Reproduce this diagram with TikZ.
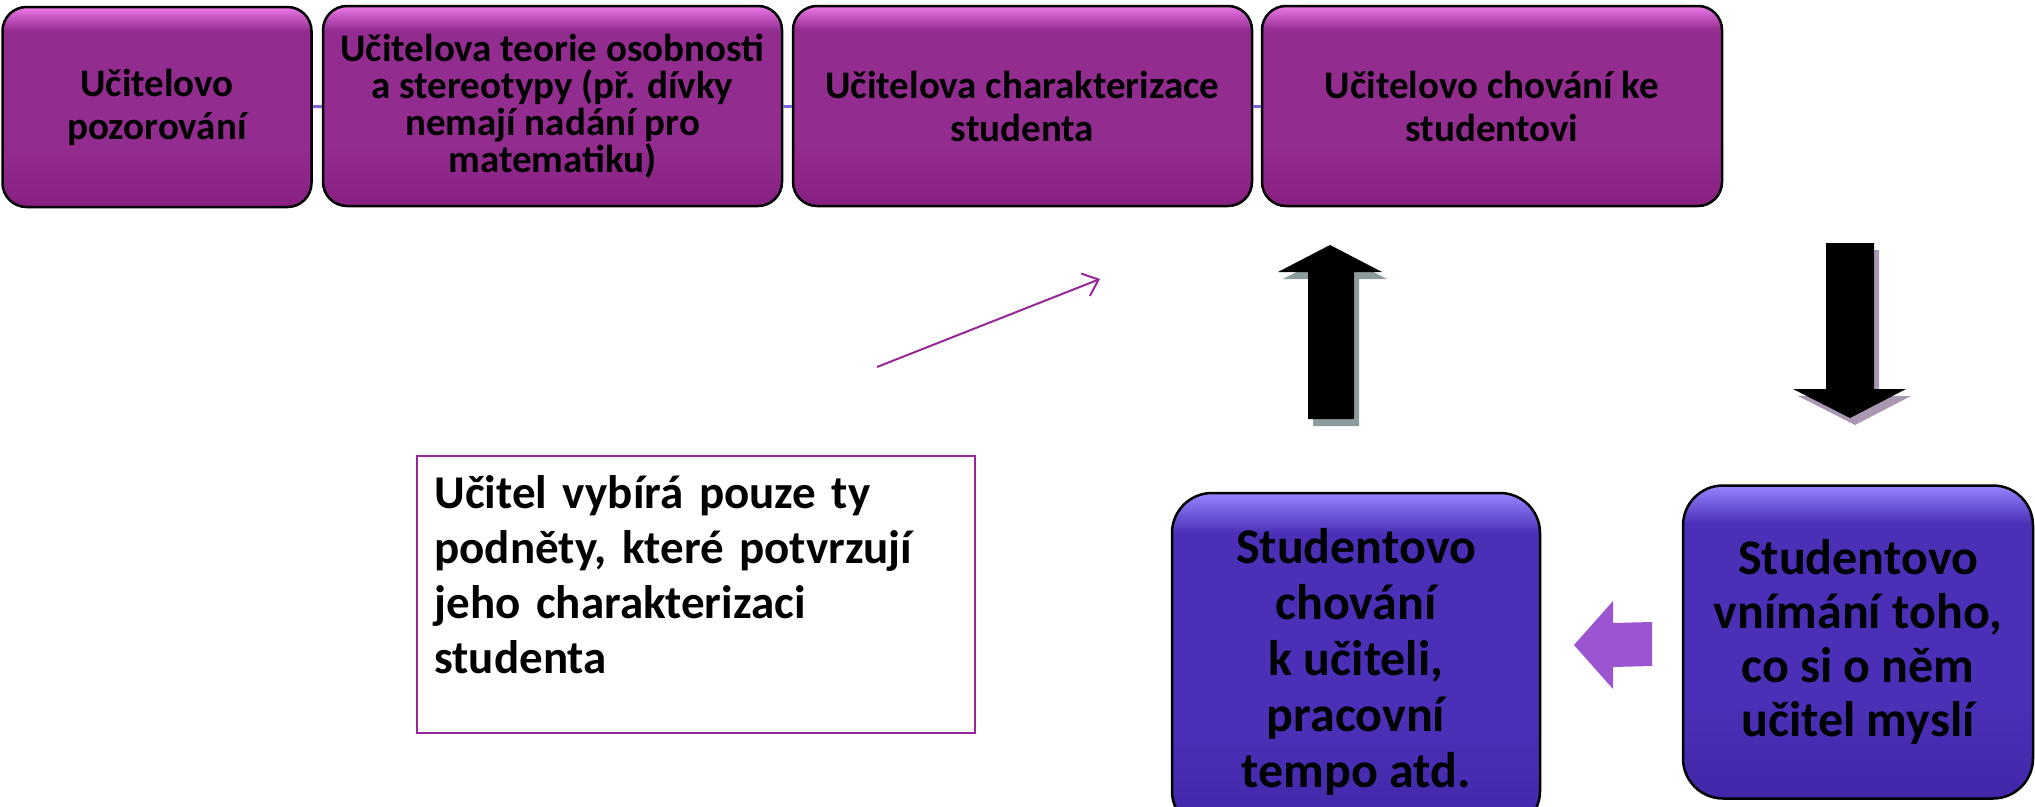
\documentclass[tikz,border=0pt]{standalone}
\usepackage{fontspec}
\setmainfont{Carlito}
\usetikzlibrary{arrows.meta}
\usetikzlibrary{positioning}

\definecolor{tbmain}{RGB}{147,44,143}
\definecolor{tbdark}{RGB}{136,32,130}
\definecolor{tblight}{RGB}{236,120,232}
\definecolor{sbmain}{RGB}{75,48,183}
\definecolor{sbdark}{RGB}{66,38,168}
\definecolor{sblight}{RGB}{152,132,255}
\definecolor{linkcol}{RGB}{125,100,220}
\definecolor{notecol}{RGB}{150,40,150}
\definecolor{backcol}{RGB}{155,85,208}
\definecolor{upshadow}{RGB}{140,155,156}
\definecolor{downshadow}{RGB}{170,152,178}

\pgfdeclareverticalshading{topshade}{100bp}{color(0bp)=(tbdark); color(25bp)=(tbdark); color(40bp)=(tbmain); color(69bp)=(tbmain); color(75bp)=(tblight); color(100bp)=(tblight)}
\pgfdeclareverticalshading{studshade}{100bp}{color(0bp)=(sbdark); color(25bp)=(sbdark); color(40bp)=(sbmain); color(69bp)=(sbmain); color(75bp)=(sblight); color(100bp)=(sblight)}

\tikzset{topbox/.style = {draw, line width=2.5pt, rounded corners=24pt, shading=topshade, align=center, inner sep=4pt, minimum height=200pt, font=\fontsize{39}{43}\selectfont\bfseries}}
\tikzset{studbox/.style = {draw, line width=2.5pt, rounded corners=40pt, shading=studshade, align=center, inner sep=4pt, font=\fontsize{50}{56}\selectfont\bfseries}}
\tikzset{notebox/.style = {draw=notecol, line width=1.5pt, fill=white, minimum width=558pt, minimum height=277pt}}
\tikzset{notetext/.style = {align=left, inner sep=0pt, text width=530pt, anchor=north west, font=\fontsize{47}{55}\selectfont\bfseries}}
\tikzset{stub/.style = {linkcol, line width=3pt}}
\tikzset{hintarrow/.style = {-{Straight Barb[length=14pt, width=24pt]}, notecol, line width=2pt}}

\begin{document}
\begin{tikzpicture}[x=1pt, y=-1pt]
  \useasboundingbox (0,0) rectangle (2035,806);

  % top row
  \node [topbox, minimum width=309pt] (pozor) at (157,107) {Učitelovo\\pozorování};
  \node [topbox, minimum width=459pt, font=\fontsize{39}{37}\selectfont\bfseries] (teorie) at (552.5,106) {Učitelova teorie osobnosti\\a stereotypy (př. dívky\\nemají nadání pro\\matematiku)};
  \node [topbox, minimum width=459pt] (charakt) at (1022.5,106) {Učitelova charakterizace\\studenta};
  \node [topbox, minimum width=460pt] (chovani) at (1492,106) {Učitelovo chování ke\\studentovi};

  \draw [stub] (pozor) -- (teorie);
  \draw [stub] (teorie) -- (charakt);
  \draw [stub] (charakt) -- (chovani);

  % note
  \node [notebox] (vyber) at (696,594.5) {};
  \node [notetext] (vybertext) at ([xshift=18pt, yshift=-20pt]vyber.north west) {Učitel vybírá pouze ty\\podněty, které potvrzují\\jeho charakterizaci\\studenta};
  \coordinate (hint) at (877,367);
  \coordinate (hinttip) at (1100,279);
  \draw [hintarrow] (hint) -- (hinttip);

  % bottom row
  \node [studbox, minimum width=368pt, minimum height=338pt] (studchov) at (1356,662) {Studentovo\\chování\\k učiteli,\\pracovní\\tempo atd.};
  \node [studbox, minimum width=350pt, minimum height=313pt, font=\fontsize{50}{54}\selectfont\bfseries] (studvnim) at (1858,642) {Studentovo\\vnímání toho,\\co si o něm\\učitel myslí};

  % block arrows
  \begin{scope}[shift={(5,7)}]
    \fill [upshadow] (1308,419) -- (1308,272) -- (1278,272) -- (1330,245) -- (1382,272) -- (1354,272) -- (1354,419) -- cycle;
  \end{scope}
  \fill (1308,419) -- (1308,272) -- (1278,272) -- (1330,245) -- (1382,272) -- (1354,272) -- (1354,419) -- cycle;

  \begin{scope}[shift={(5,7)}]
    \fill [downshadow] (1826,243) -- (1826,389) -- (1793,389) -- (1850,418) -- (1906,389) -- (1874,389) -- (1874,243) -- cycle;
  \end{scope}
  \fill (1826,243) -- (1826,389) -- (1793,389) -- (1850,418) -- (1906,389) -- (1874,389) -- (1874,243) -- cycle;

  \fill [backcol] (1574,645) -- (1613,601) -- (1613,623) -- (1652,622) -- (1652,666) -- (1613,667) -- (1613,689) -- cycle;
\end{tikzpicture}
\end{document}
